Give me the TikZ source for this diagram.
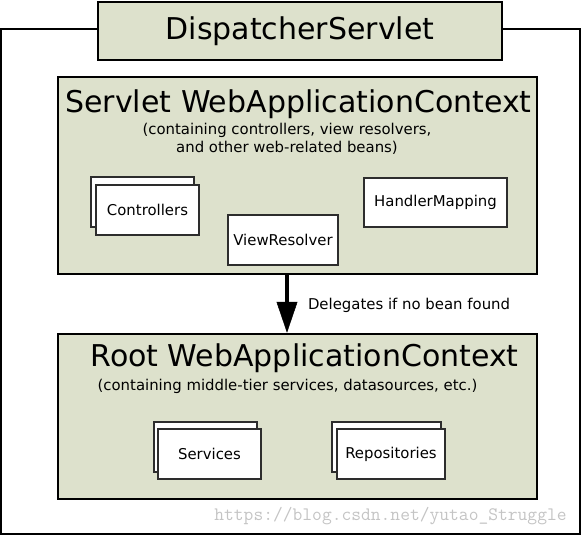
\documentclass[tikz,border=0pt]{standalone}
\usepackage{fontspec}
\setmainfont{DejaVu Sans}
\usepackage{tikz}
\usetikzlibrary{positioning}
\usetikzlibrary{arrows.meta}
\definecolor{ctxgreen}{RGB}{221,225,204}
\definecolor{beanline}{RGB}{45,45,45}
\definecolor{markgray}{RGB}{196,196,196}
\newcommand{\titlesize}{\fontsize{30}{36}\selectfont}
\newcommand{\smallsize}{\fontsize{14.9}{18}\selectfont}

\begin{document}
\begin{tikzpicture}[x=1pt, y=-1pt,
    >={Triangle[length=31pt, width=21pt, line width=0.5pt]},
    every node/.style = {inner sep=0pt},
    context/.style = {draw, line width=2.5pt, fill=ctxgreen},
    bean/.style = {draw=beanline, line width=1.3pt, fill=white, minimum width=103pt, minimum height=50pt, font=\smallsize},
    heading/.style = {anchor=base, font=\titlesize},
    note/.style = {align=center, font=\smallsize}
    ]
    \useasboundingbox (0,0) rectangle (582,536);

    \node[context, minimum width=404pt, minimum height=58pt, font=\titlesize] (ds) at (300,31) {DispatcherServlet};
    \coordinate (frtl) at (1,29);
    \coordinate (frbr) at (580,534);
    \draw[line width=2pt] (ds.west |- frtl) -- (frtl) -- (frtl |- frbr) -- (frbr) -- (frbr |- frtl) -- (ds.east |- frtl);

    % servlet context
    \node[context, minimum width=479pt, minimum height=197pt] (swac) at (297.5,175.5) {};
    \node[heading] (swactitle) at (298.5,112) {Servlet WebApplicationContext};
    \node[note] (swacnote) at (287,139) {(containing controllers, view resolvers,\\and other web-related beans)};

    \node[bean] (ctrlback) at (142.5,202) {};
    \node[bean, xshift=5pt, yshift=-8pt] (ctrl) at (ctrlback) {Controllers};
    \node[bean, minimum width=110pt] (vr) at (283,240) {ViewResolver};
    \node[bean, minimum width=143pt, minimum height=49pt] (hm) at (435.5,202.5) {HandlerMapping};

    % root context
    \node[context, minimum width=479pt, minimum height=165pt] (rwac) at (297.5,416.5) {};
    \node[heading] (rwactitle) at (304.5,366) {Root WebApplicationContext};
    \node[note] (rwacnote) at (287.5,386) {(containing middle-tier services, datasources, etc.)};

    \node[bean] (svcback) at (205.5,447) {};
    \node[bean, xshift=4pt, yshift=-7pt] (svc) at (svcback) {Services};
    \node[bean, minimum width=109pt] (repoback) at (386.5,447) {};
    \node[bean, minimum width=108pt, xshift=4.5pt, yshift=-7pt] (repo) at (repoback) {Repositories};

    \coordinate (dlg) at (287,304);
    \draw[->, line width=4pt] (swac.south -| dlg) -- (rwac.north -| dlg)
        node[midway, right=19pt, yshift=-1pt, font=\smallsize] (dlglabel) {Delegates if no bean found};

    \node[font={\ttfamily\fontsize{19}{22}\selectfont}, text=markgray] (mark) at (390.5,516.5) {https://blog.csdn.net/yutao\_Struggle};
\end{tikzpicture}
\end{document}
